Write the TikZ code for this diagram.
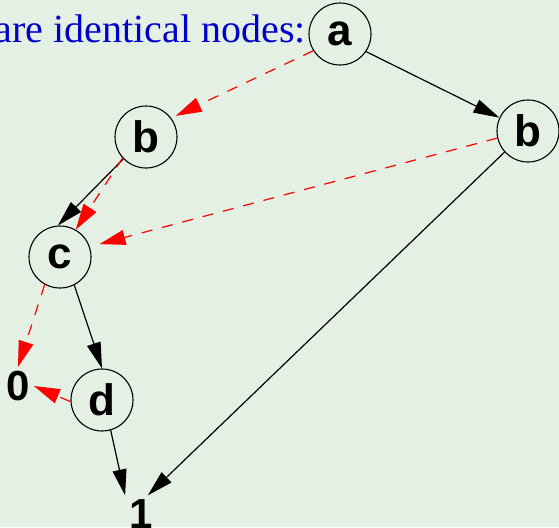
\documentclass[tikz,border=0pt]{standalone}
\usepackage{fontspec}
\setmainfont{Liberation Serif}
\setsansfont{Liberation Sans}
\usetikzlibrary{arrows.meta}
\definecolor{bg}{RGB}{229,240,229}
\definecolor{txtblue}{RGB}{0,0,204}
\begin{document}
\begin{tikzpicture}[x=1pt,y=-1pt,
  vnode/.style={circle,draw,line width=1.1pt,minimum size=62pt,inner sep=0pt,font=\sffamily\bfseries\fontsize{44}{44}\selectfont},
  leaf/.style={inner sep=4pt,font=\sffamily\bfseries\fontsize{42}{42}\selectfont},
  hi/.style={line width=1.2pt,-{Triangle[length=26pt,width=14pt]}},
  lo/.style={red,line width=1.2pt,dash pattern=on 11pt off 10pt,-{Triangle[length=26pt,width=15pt]}}
]
\fill[bg] (0,0) rectangle (559,527);
\useasboundingbox (0,0) rectangle (559,527);
\clip (0,0) rectangle (559,527);
\node[anchor=base east,font=\fontsize{40}{40}\selectfont,text=txtblue,inner sep=0pt] (title) at (306,42) {are identical nodes:};
\node[vnode] (a) at (340,34) {a};
\node[vnode] (bL) at (146,137) {b};
\node[vnode] (bR) at (528,131) {b};
\node[vnode] (c) at (60,257) {c};
\node[vnode] (d) at (102,400) {d};
\node[leaf] (zero) at (18,386) {0};
\node[leaf] (one) at (141,514) {1};
\draw[hi] (a.-34) -- (bR.155);
\draw[lo,shorten >=5pt] (a.212) -- (bL.37);
\draw[hi] (bL.224) -- (c.94);
\draw[lo] (bL.222) -- (c.60);
\draw[lo,shorten >=10pt] (bR.193) -- (c.19);
\draw[hi] (bR.222) -- (one.70);
\draw[lo] (c.241) -- (zero.north);
\draw[hi] (c.-63) -- (d.90);
\draw[lo] (d.183) -- (zero.east);
\draw[hi] (d.-74) -- (one.north west);
\end{tikzpicture}
\end{document}
